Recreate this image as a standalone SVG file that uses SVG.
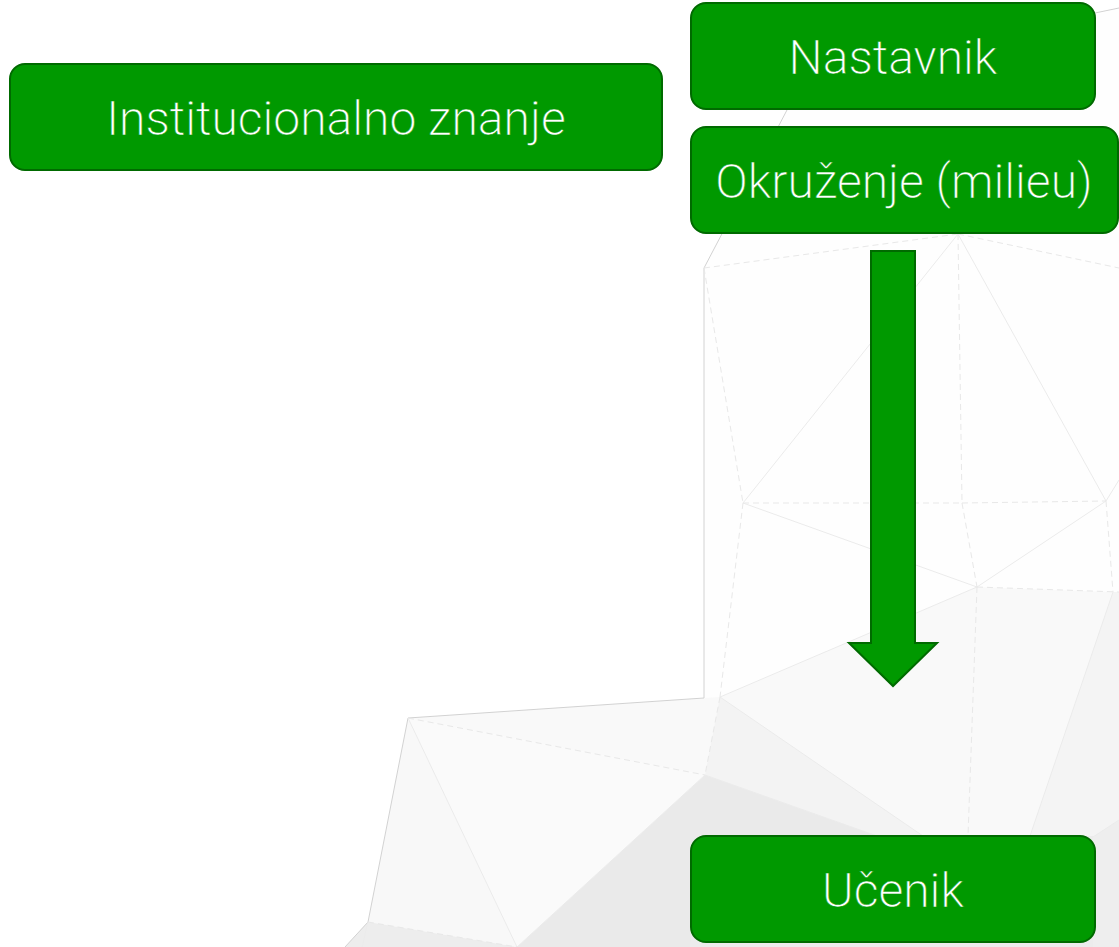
<svg xmlns="http://www.w3.org/2000/svg" width="1119" height="947" viewBox="0 0 1119 947">
  <style>
    .node rect { fill: #009900; stroke: #006a00; stroke-width: 2; }
    /* a hairline green outline over the glyphs gives the light cut of the face */
    .node text { fill: #ffffff; stroke: #009900; stroke-width: 0.5; font-family: "Roboto Light", Roboto, "Liberation Sans", sans-serif; font-weight: 300; font-size: 48px; text-anchor: middle; }
    .edge { fill: none; stroke: #ebebeb; stroke-width: 1; }
    .dash { fill: none; stroke: #e8e8e8; stroke-width: 1; stroke-dasharray: 6 4; }
    .rim { fill: none; stroke: #d2d2d2; stroke-width: 1; }
    .arrow { fill: #009900; stroke: #006a00; stroke-width: 2; }
  </style>

  <rect width="1119" height="947" fill="#ffffff"/>

  <!-- low-poly backdrop -->
  <g id="backdrop">
    <polygon points="787,110 1119,8 1119,947 345,947 368,922 408,718 704,698 704,268" fill="#fefefe"/>
    <!-- lower band -->
    <polygon points="720,697 977,587 1113,592 1119,592 1119,947 704,947 704,698" fill="#f9f9f9"/>
    <polygon points="1113,592 1119,592 1119,947 1000,947 1030,836" fill="#f4f4f4"/>
    <polygon points="1093,837 1119,820 1119,947 1093,947" fill="#eeeeee"/>
    <polygon points="720,697 923,836 877,836 705,775" fill="#f3f3f3"/>
    <polygon points="705,775 877,836 700,947 517,947" fill="#eaeaea"/>
    <polygon points="700,836 1093,836 1093,947 690,947" fill="#ececec"/>
    <polygon points="408,718 704,698 705,775" fill="#f9f9f9"/>
    <polygon points="408,718 705,775 517,947" fill="#fafafa"/>
    <polygon points="408,718 517,947 368,922" fill="#f8f8f8"/>
    <polygon points="368,922 517,947 345,947" fill="#ededed"/>

    <!-- outer rim -->
    <polyline class="rim" points="1119,8 1095,13"/>
    <polyline class="rim" points="787,110 704,268 704,698 408,718 368,922 345,947"/>

    <!-- facet edges -->
    <line class="dash" x1="704" y1="268" x2="958" y2="234"/>
    <line class="dash" x1="958" y1="234" x2="1119" y2="268"/>
    <line class="edge" x1="958" y1="234" x2="743" y2="503"/>
    <line class="dash" x1="958" y1="234" x2="962" y2="503"/>
    <line class="edge" x1="958" y1="234" x2="1106" y2="501"/>
    <line class="dash" x1="704" y1="268" x2="743" y2="503"/>
    <line class="dash" x1="743" y1="503" x2="962" y2="503"/>
    <line class="edge" x1="743" y1="503" x2="977" y2="587"/>
    <line class="dash" x1="743" y1="503" x2="720" y2="697"/>
    <line class="dash" x1="962" y1="503" x2="977" y2="587"/>
    <line class="dash" x1="962" y1="503" x2="1106" y2="501"/>
    <line class="edge" x1="1106" y1="501" x2="977" y2="587"/>
    <line class="edge" x1="1106" y1="501" x2="1119" y2="480"/>
    <line class="dash" x1="1106" y1="501" x2="1113" y2="592"/>
    <line class="dash" x1="977" y1="587" x2="1119" y2="592"/>
    <line class="edge" x1="977" y1="587" x2="720" y2="697"/>
    <line class="dash" x1="977" y1="587" x2="968" y2="836"/>
    <line class="edge" x1="1113" y1="592" x2="1030" y2="836"/>
    <line class="dash" x1="720" y1="697" x2="705" y2="775"/>
    <line class="edge" x1="720" y1="697" x2="923" y2="836"/>
    <line class="dash" x1="408" y1="718" x2="705" y2="775"/>
    <line class="edge" x1="705" y1="775" x2="877" y2="836"/>
    <line class="edge" x1="705" y1="775" x2="517" y2="947"/>
    <line class="edge" x1="705" y1="775" x2="733" y2="836"/>
    <line class="edge" x1="408" y1="718" x2="517" y2="947"/>
    <line class="dash" x1="368" y1="922" x2="517" y2="947"/>
    <line class="edge" x1="368" y1="922" x2="362" y2="947"/>
    <line class="edge" x1="1093" y1="837" x2="1119" y2="820"/>
  </g>

  <!-- connectors -->
  <g id="connectors">
    <polygon class="arrow" points="871,251 915,251 915,643 937,643 893,686 849,643 871,643"/>
  </g>

  <g id="node-institucionalno" class="node">
    <rect x="10" y="64" width="652" height="106" rx="15" ry="15"/>
    <text x="336" y="135">Institucionalno znanje</text>
  </g>

  <g id="node-nastavnik" class="node">
    <rect x="691" y="3" width="404" height="106" rx="15" ry="15"/>
    <text x="893" y="74">Nastavnik</text>
  </g>

  <g id="node-okruzenje" class="node">
    <rect x="691" y="127" width="427" height="106" rx="15" ry="15"/>
    <text x="904" y="198">Okruženje (milieu)</text>
  </g>

  <g id="node-ucenik" class="node">
    <rect x="691" y="836" width="404" height="106" rx="15" ry="15"/>
    <text x="893" y="907">Učenik</text>
  </g>
</svg>
